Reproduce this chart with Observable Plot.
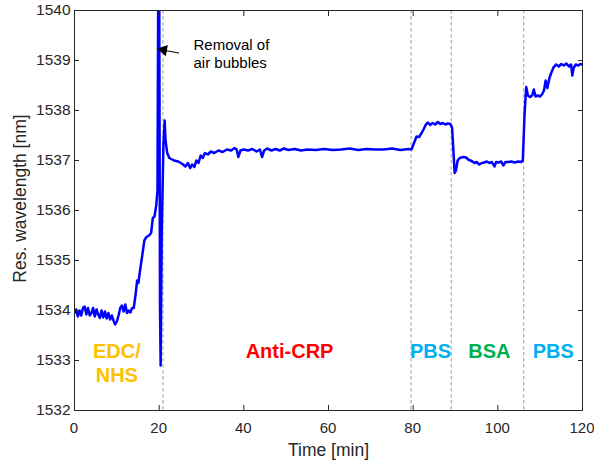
<!DOCTYPE html>
<html>
<head>
<meta charset="utf-8">
<script src="https://cdn.jsdelivr.net/npm/d3@7"></script>
<script src="https://cdn.jsdelivr.net/npm/@observablehq/plot@0.6"></script>
<style>
  html, body { margin: 0; padding: 0; background: #fff; }
  #chart { width: 594px; height: 463px; }
</style>
</head>
<body>
<div id="chart"></div>
<script>
// ---- data ----
const timeMin = [
  0, 0.4, 0.8, 1.2, 1.6, 2, 2.4, 2.8, 3.2, 3.6, 4, 4.4, 4.8, 5.2, 5.6, 6, 6.4, 6.8, 7.2, 7.6, 8, 8.4, 8.8, 9.2, 9.6, 10, 10.4, 10.8, 11.2, 11.6, 12, 12.4, 12.8, 13.2, 13.6, 14,
  14.4, 14.8, 15.1, 15.4, 16, 16.5, 17, 17.6, 18.1, 18.5, 18.9, 19.3, 19.6, 19.8, 20.0, 20.2, 20.35, 20.6, 21.0, 21.3, 21.5, 21.9, 22.4,
  23.5, 24.5, 25.5, 26.2, 26.8, 27.3, 27.8, 28.3, 28.8, 29.3, 29.8, 30.3, 30.8, 31.5, 32.2, 33, 34, 35, 36, 37, 37.8, 38.3, 38.7, 39.2,
  40, 41, 42, 43, 43.8, 44.3, 44.8, 45.5, 46.5, 47.5, 48.5, 49.5, 50.5, 52, 53.5, 55, 57, 59, 61, 63, 65, 67, 69, 71, 73, 75, 77, 79,
  79.6, 80.2, 80.8, 81.4, 82, 82.5, 83, 83.5, 84, 84.6, 85.2, 85.8, 86.4, 87, 87.6, 88.2, 88.8, 89.2, 89.5, 89.8, 90.1, 90.5, 91, 91.8,
  92.5, 93, 93.5, 94, 94.5, 95, 95.6, 96.2, 96.8, 97.4, 98, 98.6, 99.2, 99.6, 100.2, 100.8, 101.3, 101.8, 102.5, 103.2, 104, 104.8, 105.5,
  105.9, 106.3, 106.7, 107.1, 107.6, 108.1, 108.5, 108.9, 109.4, 110, 110.5, 110.9, 111.3, 111.7, 112.2, 112.6, 113.2, 113.8, 114.4,
  115, 115.6, 116.2, 116.8, 117.3, 117.6, 117.9, 118.4, 119, 119.5, 120
];
const wavelengthNm = [
  1533.95, 1534.02, 1533.88, 1534.0, 1533.9, 1534.05, 1534.08, 1533.92, 1534.05, 1533.9, 1533.95, 1534.05, 1533.88, 1534.02, 1533.92, 1533.85, 1534.0, 1533.86, 1533.98, 1533.84, 1533.95, 1533.82, 1533.9, 1533.8, 1533.72, 1533.78, 1533.9, 1534.05, 1534.1, 1533.98, 1534.12, 1533.95, 1534.0, 1533.96, 1534.05, 1534.05,
  1534.3, 1534.6, 1534.55, 1534.75, 1535.1, 1535.4, 1535.47, 1535.5, 1535.55, 1535.85, 1535.88, 1536.1, 1536.4, 1541, 1541, 1534, 1532.9, 1535.5, 1537.3, 1537.8, 1537.4, 1537.15, 1537.05,
  1537.0, 1536.98, 1536.93, 1536.88, 1536.95, 1536.85, 1536.92, 1536.87, 1537.0, 1536.95, 1537.1, 1537.05, 1537.15, 1537.12, 1537.18, 1537.15, 1537.2, 1537.17, 1537.22, 1537.2, 1537.25, 1537.22, 1537.07, 1537.2,
  1537.22, 1537.2, 1537.23, 1537.18, 1537.22, 1537.07, 1537.2, 1537.24, 1537.2, 1537.23, 1537.2, 1537.24, 1537.21, 1537.23, 1537.2, 1537.22, 1537.21, 1537.23, 1537.21, 1537.22, 1537.24, 1537.21, 1537.23, 1537.22, 1537.22, 1537.24, 1537.21, 1537.23,
  1537.22, 1537.35, 1537.48, 1537.47, 1537.55, 1537.63, 1537.72, 1537.76, 1537.71, 1537.75, 1537.72, 1537.77, 1537.73, 1537.75, 1537.72, 1537.74, 1537.73, 1537.65, 1537.2, 1536.75, 1536.8, 1537.0, 1537.05, 1537.07,
  1537.06, 1537.02, 1537.0, 1536.98, 1536.95, 1536.97, 1536.92, 1536.95, 1536.96, 1536.98, 1536.95, 1536.97, 1536.88, 1536.97, 1536.96, 1536.98, 1536.9, 1536.97, 1536.97, 1536.98, 1536.96, 1536.98, 1536.97,
  1537.0, 1537.9, 1538.47, 1538.3, 1538.27, 1538.3, 1538.42, 1538.28, 1538.3, 1538.28, 1538.33, 1538.4, 1538.6, 1538.45, 1538.65, 1538.75, 1538.87, 1538.92, 1538.88,
  1538.93, 1538.9, 1538.94, 1538.88, 1538.92, 1538.7, 1538.85, 1538.92, 1538.9, 1538.93, 1538.92
];
const xTicks = [0, 20, 40, 60, 80, 100, 120];
const yTicks = [1532, 1533, 1534, 1535, 1536, 1537, 1538, 1539, 1540];
const stepTimes = [20.9, 79.5, 89, 106.1];
const phaseNames = ["EDC/\nNHS", "Anti-CRP", "PBS", "BSA", "PBS"];
const phaseX = [10, 50.8, 84.1, 98, 113.1];
const phaseY = [1532.965, 1533.2, 1533.2, 1533.2, 1533.2];
const noteText = "Removal of\nair bubbles";
const noteX = 28.1, noteY = 1539.14;
const arrowFrom = [24.6, 1539.15], arrowTo = [20.2, 1539.22];
const xTitle = "Time [min]";
const yTitle = "Res. wavelength [nm]";

// ---- styles ----
const phaseColors = ["#FFC000", "#FF0000", "#00B0F0", "#00B050", "#00B0F0"];
const ink = "#262626";

const series = timeMin.map((t, i) => ({t, w: wavelengthNm[i]}));
const phases = phaseNames.map((name, i) => ({name, x: phaseX[i], y: phaseY[i], color: phaseColors[i]}));

const plot = Plot.plot({
  width: 594,
  height: 463,
  marginLeft: 74,
  marginRight: 12,
  marginTop: 10,
  marginBottom: 53,
  style: {fontFamily: "Arial, 'Liberation Sans', Helvetica, sans-serif", fontSize: "15.5px", color: ink, background: "#fff"},
  x: {domain: [0, 120]},
  y: {domain: [1532, 1540]},
  marks: [
    Plot.ruleX(stepTimes, {x: d => d, stroke: "#b4b4b4", strokeWidth: 1.3, strokeDasharray: "3.5,2.5"}),
    Plot.line(series, {x: "t", y: "w", stroke: "#0000ff", strokeWidth: 2.5, clip: true, strokeLinejoin: "round"}),
    Plot.text(phases, {x: "x", y: "y", text: "name", fill: "color", fontWeight: "bold", fontSize: 20, lineAnchor: "middle", lineHeight: 1.2}),
    Plot.text([noteText], {x: noteX, y: noteY, text: d => d, textAnchor: "start", fontSize: 15, lineHeight: 1.2, fill: "#000"}),
    Plot.arrow([{}], {x1: arrowFrom[0], y1: arrowFrom[1], x2: arrowTo[0], y2: arrowTo[1], stroke: "#000", strokeWidth: 1, headLength: 0, insetEnd: 6}),
    Plot.dot([{}], {x: arrowTo[0] + 0.85, y: arrowTo[1] - 0.01, symbol: "triangle", r: 4.2, fill: "#000", stroke: "none", rotate: -80}),
    Plot.axisX({ticks: xTicks, tickSize: 0, tickPadding: 12, label: null, fontSize: 15, dx: -0.5}),
    Plot.axisX({ticks: xTicks, tickSize: 5, dy: -5, text: null, label: null, stroke: ink}),
    Plot.axisX({ticks: xTicks, anchor: "top", tickSize: 5, dy: 5, text: null, label: null, stroke: ink}),
    Plot.axisY({ticks: yTicks, tickSize: 0, tickPadding: 4, label: null, tickFormat: d => String(d), fontSize: 15.5}),
    Plot.axisY({ticks: yTicks, tickSize: 5, dx: 5, text: null, label: null, stroke: ink}),
    Plot.axisY({ticks: yTicks, anchor: "right", tickSize: 5, dx: -5, text: null, label: null, stroke: ink}),
    Plot.frame({stroke: ink, strokeWidth: 1}),
    Plot.text([xTitle], {frameAnchor: "bottom", dy: 40, text: d => d, fontSize: 17.5, lineAnchor: "middle", fill: ink}),
    Plot.text([yTitle], {frameAnchor: "left", dx: -54, dy: -12, text: d => d, fontSize: 17.5, rotate: -90, textAnchor: "middle", lineAnchor: "middle", fill: ink})
  ]
});
document.getElementById("chart").appendChild(plot);
</script>
</body>
</html>
